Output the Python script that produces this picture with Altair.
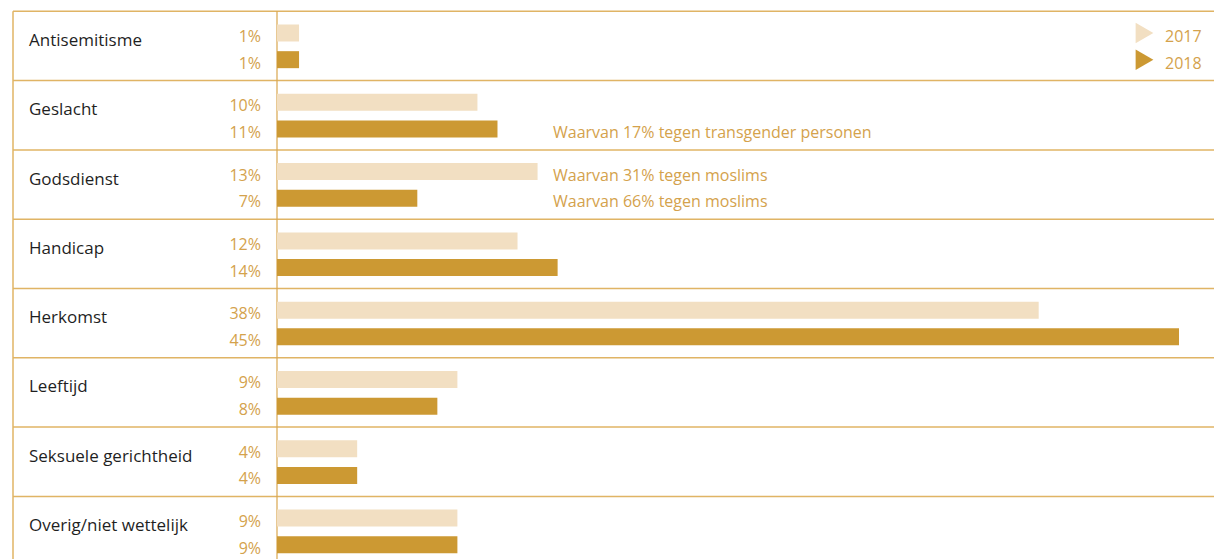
import altair as alt
import pandas as pd

categories = ["Antisemitisme", "Geslacht", "Godsdienst", "Handicap", "Herkomst",
              "Leeftijd", "Seksuele gerichtheid", "Overig/niet wettelijk"]
years = ["2017", "2018"]
values_2017 = [1.1, 10, 13, 12, 38, 9, 4, 9]
values_2018 = [1.1, 11, 7, 14, 45, 8, 4, 9]
labels_2017 = ["1%", "10%", "13%", "12%", "38%", "9%", "4%", "9%"]
labels_2018 = ["1%", "11%", "7%", "14%", "45%", "8%", "4%", "9%"]
note_categories = ["Geslacht", "Godsdienst", "Godsdienst"]
note_years = ["2018", "2017", "2018"]
note_texts = ["Waarvan 17% tegen transgender personen",
              "Waarvan 31% tegen moslims",
              "Waarvan 66% tegen moslims"]

rows = []
for i, c in enumerate(categories):
    rows.append({"cat": c, "year": "2017", "value": values_2017[i], "label": labels_2017[i]})
    rows.append({"cat": c, "year": "2018", "value": values_2018[i], "label": labels_2018[i]})
df = pd.DataFrame(rows)
cats_df = pd.DataFrame({"cat": categories})
notes_df = pd.DataFrame({"cat": note_categories, "year": note_years, "text": note_texts})
legend_df = pd.DataFrame({"cat": [categories[0]] * 2, "year": years})

LIGHT = "#F2DFC2"
DARK = "#CC9933"
TXT = "#D4A24C"
LINE = "#E0B465"
FONT = "Open Sans"

# vertical position of each year's bar inside a category band
BANDPOS = {"2017": 0.313, "2018": 0.698}

yscale = alt.Scale(domain=categories, range=[11.3, 565.7], paddingInner=0, paddingOuter=0)
xscale = alt.Scale(domain=[0, 45], range=[277, 1179], nice=False, zero=True)
cscale = alt.Scale(domain=years, range=[LIGHT, DARK])


def ypos(bp):
    return alt.Y("cat:N", scale=yscale, axis=None, sort=categories, bandPosition=bp)


layers = []

hlines = alt.Chart(cats_df).mark_rule(color=LINE, strokeWidth=1.5).encode(
    y=ypos(0), x=alt.value(13), x2=alt.value(1214))
layers.append(hlines)

vline = alt.Chart(cats_df.head(1)).transform_calculate(zero="0").mark_rule(
    color="#D9A64E", strokeWidth=1.2).encode(
    x=alt.X("zero:Q", scale=xscale, axis=None), y=alt.value(11.3), y2=alt.value(559))
layers.append(vline)

lline = alt.Chart(cats_df.head(1)).mark_rule(color=LINE, strokeWidth=1.5).encode(
    x=alt.value(13), y=alt.value(11.3), y2=alt.value(559))
layers.append(lline)

for yr in years:
    bp = BANDPOS[yr]
    sub = df[df["year"] == yr]
    bar = alt.Chart(sub).transform_calculate(zero="0").mark_rule(
        strokeWidth=17, strokeCap="butt").encode(
        x=alt.X("zero:Q", scale=xscale, axis=None),
        x2="value:Q",
        y=ypos(bp),
        color=alt.Color("year:N", scale=cscale, legend=None),
    )
    pct = alt.Chart(sub).mark_text(align="right", baseline="alphabetic", dy=9,
                                   font=FONT, fontSize=16, color=TXT).encode(
        x=alt.value(261), y=ypos(bp), text="label:N")
    nsub = notes_df[notes_df["year"] == yr]
    note = alt.Chart(nsub).mark_text(align="left", baseline="alphabetic", dy=9,
                                     font=FONT, fontSize=16, color=TXT).encode(
        x=alt.value(553), y=ypos(bp), text="text:N")
    lsub = legend_df[legend_df["year"] == yr]
    lsym = alt.Chart(lsub).mark_point(shape="triangle-right", filled=True, size=420,
                                      opacity=1).encode(
        x=alt.value(1144.5), y=ypos(bp),
        color=alt.Color("year:N", scale=cscale, legend=None))
    ltxt = alt.Chart(lsub).mark_text(align="left", baseline="alphabetic", dy=9,
                                     font=FONT, fontSize=16, color=TXT).encode(
        x=alt.value(1165), y=ypos(bp), text="year:N")
    layers += [bar, pct, note, lsym, ltxt]

catlab = alt.Chart(cats_df).mark_text(align="left", baseline="alphabetic", dy=0,
                                      font=FONT, fontSize=17, color="#1F1F1F").encode(
    x=alt.value(29), y=ypos(0.5), text="cat:N")
layers.append(catlab)

chart = alt.layer(*layers).properties(
    width=1214, height=559,
    autosize=alt.AutoSizeParams(type="none"),
    padding=0,
).configure_view(stroke=None)

chart.save("out.html", embed_options={"renderer": "svg", "actions": False})
